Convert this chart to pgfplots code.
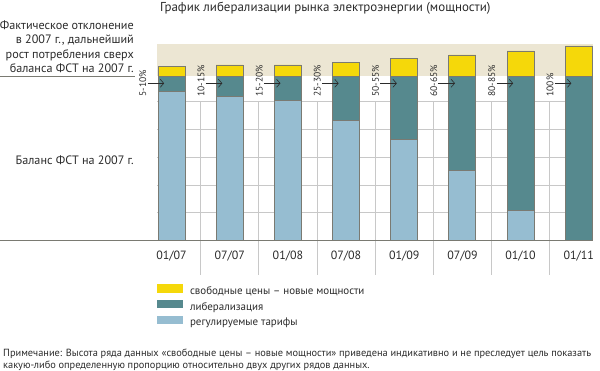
\documentclass[border=0pt]{standalone}
\usepackage{fontspec}
\setmainfont{PT Sans}
\usepackage{pgfplots}
\usepackage{pgfplotstable}
\pgfplotsset{compat=1.18}
\usetikzlibrary{arrows.meta}
\definecolor{cyel}{HTML}{F5D80A}
\definecolor{cteal}{HTML}{56898E}
\definecolor{cblue}{HTML}{96BDD1}
\definecolor{cbeige}{HTML}{ECE6D3}
\definecolor{cborder}{HTML}{7A7A72}
\definecolor{cgrid}{HTML}{C8C8C8}
\definecolor{ctext}{HTML}{2B2B2B}

\pgfplotstableread{
x blue teal yellow
0 148.3 15.7 9.3
1 144.0 20.0 11.0
2 140.0 24.0 11.0
3 119.3 44.7 13.3
4 101.0 63.0 17.7
5 69.3 94.7 21.0
6 30.0 134.0 25.0
7 0.0 164.0 30.0
}\bardata

\begin{document}
\begin{tikzpicture}[x=1bp,y=1bp]
\path[use as bounding box] (0,0) rectangle (600,370);
% background band and vertical separators
\fill[cbeige] (157,294) rectangle (593,326);
\foreach \i in {0,...,6} {
  \draw[cgrid, line width=0.8bp] ({200.63+58.173*\i},268.3) -- ({200.63+58.173*\i},95);
}
\begin{axis}[
  at={(157bp,130bp)}, anchor=south west, scale only axis,
  width=436.3bp, height=196bp,
  xmin=-0.25, xmax=7.25, ymin=0, ymax=196,
  clip=false,
  ybar stacked, bar width=27bp,
  reverse stacked plots=false,
  axis line style={draw=none},
  tick style={draw=none},
  xtick={0,...,7},
  xticklabels={01/07,07/07,01/08,07/08,01/09,07/09,01/10,01/11},
  xticklabel style={font=\fontsize{12}{14}\selectfont, anchor=base, yshift=-19bp, text=ctext},
  ytick={27.3,55,82.7,110.5,138.3},
  yticklabels={},
  ymajorgrids, major grid style={cgrid, line width=0.8bp},
  every axis plot post/.append style={legend image code/.code={\fill[##1,draw=none] (0bp,-0.7bp) rectangle (26bp,7.7bp);}},
  reverse legend,
  legend style={at={(axis description cs:0,-0.225)}, anchor=north west, draw=none, fill=none,
    inner sep=0pt, outer sep=0pt, row sep=2.5bp, font=\fontsize{11}{13}\selectfont,
    cells={anchor=west}, nodes={inner sep=0pt, text height=8bp, text depth=3bp, text=ctext},
    /tikz/every odd column/.append style={column sep=7bp}},
]
\addplot[fill=cblue, draw=cborder, line width=0.9bp] table[x=x, y=blue] {\bardata};
\addlegendentry{регулируемые тарифы}
\addplot[fill=cteal, draw=cborder, line width=0.9bp] table[x=x, y=teal] {\bardata};
\addlegendentry{либерализация}
\addplot[fill=cyel, draw=cborder, line width=0.9bp] table[x=x, y=yellow] {\bardata};
\addlegendentry{свободные цены – новые мощности}
\end{axis}
% arrows and share labels
\foreach \i/\lab in {0/5-10\%,1/10-15\%,2/15-20\%,3/25-30\%,4/50-55\%,5/60-65\%,6/80-85\%,7/100\%} {
  \draw[ctext, line width=0.6bp, -{Straight Barb[length=3.5bp,width=8bp]}] ({171.54+58.173*\i-24},286.7) -- ({171.54+58.173*\i-7.4},286.7);
  \node[rotate=90, anchor=west, inner sep=0pt, font=\fontsize{9.6}{11}\selectfont, text=ctext] at ({171.54+58.173*\i-28.7},273.3) {\lab};
}
% baseline and left rule
\draw[cborder, line width=0.9bp] (0,130) -- (593,130);
\draw[cborder, line width=0.8bp] (0,294) -- (135,294);
% title
\node[anchor=base west, inner sep=0pt, font=\fontsize{13}{15}\selectfont, text=ctext] at (160,359) {График либерализации рынка электроэнергии (мощности)};
% left texts
\begin{scope}[every node/.style={anchor=base east, inner sep=0pt, font=\fontsize{12.2}{14}\selectfont, text=ctext}]
\node at (134,341) {Фактическое отклонение};
\node at (134,326.5) {в 2007 г., дальнейший};
\node at (134,312) {рост потребления сверх};
\node at (134,297.5) {баланса ФСТ на 2007 г.};
\node at (134,206) {Баланс ФСТ на 2007 г.};
\end{scope}
% footnote
\begin{scope}[every node/.style={anchor=base west, inner sep=0pt, font=\fontsize{10.4}{12}\selectfont, text=ctext}]
\node at (3,14) {Примечание: Высота ряда данных «свободные цены – новые мощности» приведена индикативно и не преследует цель показать};
\node at (3,2) {какую-либо определенную пропорцию относительно двух других рядов данных.};
\end{scope}
\end{tikzpicture}
\end{document}
